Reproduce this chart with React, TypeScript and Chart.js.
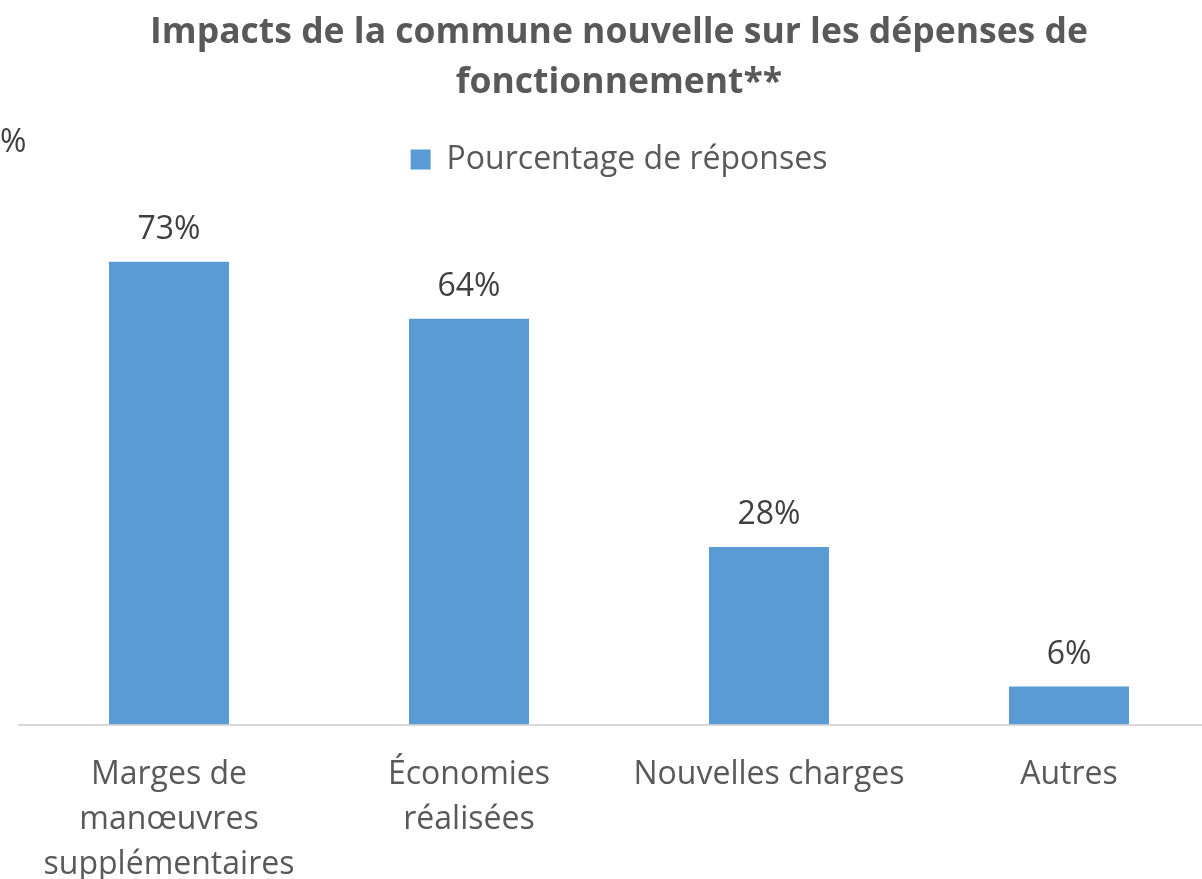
import React, { useEffect, useRef } from "react";
import { Chart, registerables } from "chart.js";

Chart.register(...registerables);

const categories: (string | string[])[] = [
  ["Marges de", "manœuvres", "supplémentaires"],
  ["Économies", "réalisées"],
  "Nouvelles charges",
  "Autres",
];
const seriesName = "Pourcentage de réponses";
const values = [73, 64, 28, 6];
const titleLines = ["Impacts de la commune nouvelle sur les dépenses de", "fonctionnement**"];

const FONT = "'Open Sans', sans-serif";

const dataLabelPlugin = {
  id: "dataLabels",
  afterDatasetsDraw(chart: any) {
    const ctx = chart.ctx;
    const meta = chart.getDatasetMeta(0);
    ctx.save();
    ctx.font = `32px ${FONT}`;
    ctx.fillStyle = "#404040";
    ctx.textAlign = "center";
    ctx.textBaseline = "alphabetic";
    meta.data.forEach((bar: any, i: number) => {
      ctx.fillText(`${values[i]}%`, bar.x, bar.y - 23);
    });
    ctx.restore();
  },
};

export default function App() {
  const ref = useRef<HTMLCanvasElement | null>(null);
  useEffect(() => {
    if (!ref.current) return;
    const chart = new Chart(ref.current, {
      type: "bar",
      data: {
        labels: categories,
        datasets: [
          {
            label: seriesName,
            data: values,
            backgroundColor: "#5B9BD5",
            borderWidth: 0,
            categoryPercentage: 1,
            barPercentage: 0.4,
          },
        ],
      },
      options: {
        responsive: false,
        animation: false,
        layout: { padding: { left: 19, right: 21, top: 8, bottom: 0 } },
        plugins: {
          title: {
            display: true,
            text: titleLines,
            color: "#595959",
            font: { family: FONT, size: 35.5, weight: "bold", lineHeight: 1.41 },
            padding: { top: 0, bottom: 25.5 },
          },
          legend: {
            display: true,
            position: "top",
            labels: {
              color: "#595959",
              font: { family: FONT, size: 32 },
              boxWidth: 20,
              boxHeight: 20,
              padding: 10,
            },
          },
          tooltip: { enabled: false },
        },
        scales: {
          x: {
            grid: { display: false },
            border: { display: true, color: "#d9d9d9", width: 2 },
            ticks: {
              color: "#595959",
              font: { family: FONT, size: 32, lineHeight: 1.4 },
              padding: 20,
              maxRotation: 0,
              autoSkip: false,
            },
          },
          y: {
            display: false,
            min: 0,
            max: 85,
          },
        },
      },
      plugins: [dataLabelPlugin],
    });
    return () => chart.destroy();
  }, []);

  return (
    <div
      style={{
        position: "fixed",
        left: 0,
        top: 0,
        width: 1202,
        height: 879,
        overflow: "hidden",
        background: "#fff",
      }}
    >
      <canvas ref={ref} width={1240} height={907} style={{ display: "block" }} />
      <span
        style={{
          position: "absolute",
          left: 0,
          top: 118,
          fontFamily: FONT,
          fontSize: 32,
          color: "#404040",
        }}
      >
        %
      </span>
    </div>
  );
}
